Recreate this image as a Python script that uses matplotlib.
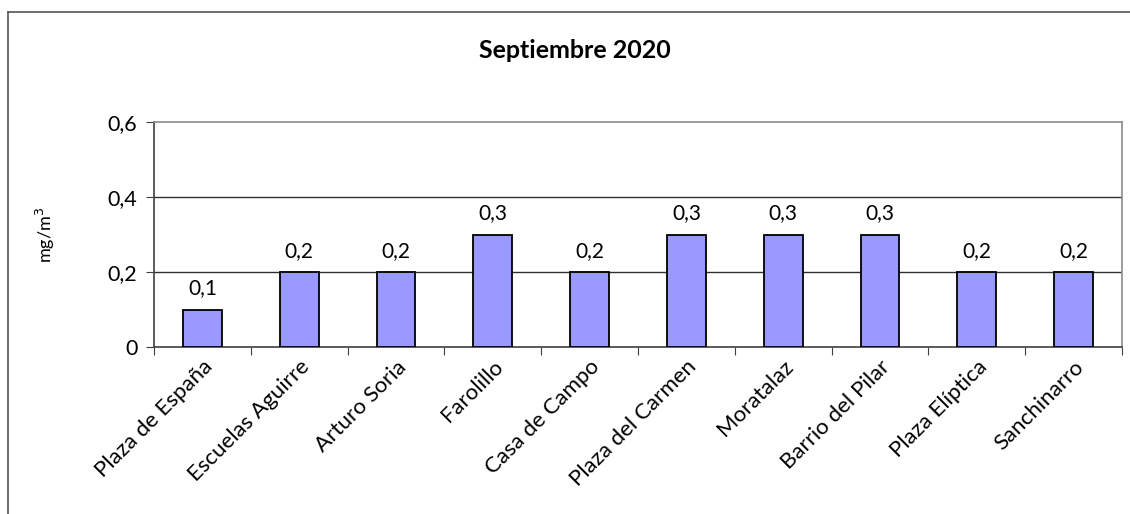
import numpy as np
import matplotlib.pyplot as plt
from matplotlib.lines import Line2D
from matplotlib.transforms import ScaledTranslation

plt.rcParams['font.family'] = ['Lato', 'DejaVu Sans']

estaciones = ['Plaza de España', 'Escuelas Aguirre', 'Arturo Soria', 'Farolillo',
              'Casa de Campo', 'Plaza del Carmen', 'Moratalaz', 'Barrio del Pilar',
              'Plaza Elíptica', 'Sanchinarro']
valores = [0.1, 0.2, 0.2, 0.3, 0.2, 0.3, 0.3, 0.3, 0.2, 0.2]
yticks = [0, 0.2, 0.4, 0.6]
ylabels = ['0', '0,2', '0,4', '0,6']

fig = plt.figure(figsize=(11.3, 5.14), dpi=100)
ax = fig.add_axes([154/1130, 1-347/514, (1122-154)/1130, (347-122)/514])

x = np.arange(len(estaciones))
ax.bar(x, valores, width=0.4, color='#9999FF', edgecolor='black', linewidth=1.3, zorder=3)
for xi, v in zip(x, valores):
    ax.annotate(('%.1f' % v).replace('.', ','), (xi, v), xytext=(0, 8),
                textcoords='offset points', ha='center', va='bottom', fontsize=15)

ax.set_xlim(-0.5, len(estaciones)-0.5)
ax.set_ylim(0, 0.6)
ax.set_yticks(yticks)
ax.set_yticklabels(ylabels, fontsize=15.5)
for t in yticks[1:-1]:
    ax.axhline(t, color='#303030', linewidth=1, zorder=1)

ax.set_xticks(np.arange(len(estaciones)+1) - 0.5)
ax.set_xticklabels([])
ax.set_xticks(x, minor=True)
ax.set_xticklabels(estaciones, minor=True, rotation=45, ha='right', va='top',
                   rotation_mode='anchor', fontsize=16)
shift = ScaledTranslation(8/100, 0, fig.dpi_scale_trans)
for lbl in ax.get_xticklabels(minor=True):
    lbl.set_transform(lbl.get_transform() + shift)
ax.tick_params(axis='x', which='minor', length=0, pad=7)
ax.tick_params(axis='x', which='major', length=6, direction='out', color='#404040')
ax.tick_params(axis='y', length=6, direction='out', color='#404040', pad=6)

ax.spines['top'].set_color('#8c8c8c')
ax.spines['right'].set_color('#8c8c8c')
ax.spines['left'].set_color('#404040')
ax.spines['bottom'].set_color('#404040')
for s in ax.spines.values():
    s.set_linewidth(1.2)

ax.set_ylabel('mg/m$^3$', fontsize=13)
ax.yaxis.set_label_coords((57-154)/968, 0.5)
fig.text(575/1130, 1-51/514, 'Septiembre 2020', ha='center', va='center',
         fontsize=18, fontweight='bold')

# outer chart border (left and top visible)
fig.add_artist(Line2D([8/1130, 8/1130], [0, 1-12/514], transform=fig.transFigure,
                      color='#555555', linewidth=1.2))
fig.add_artist(Line2D([8/1130, 1], [1-12/514, 1-12/514], transform=fig.transFigure,
                      color='#555555', linewidth=1.2))

fig.savefig('out.png', dpi=100)
